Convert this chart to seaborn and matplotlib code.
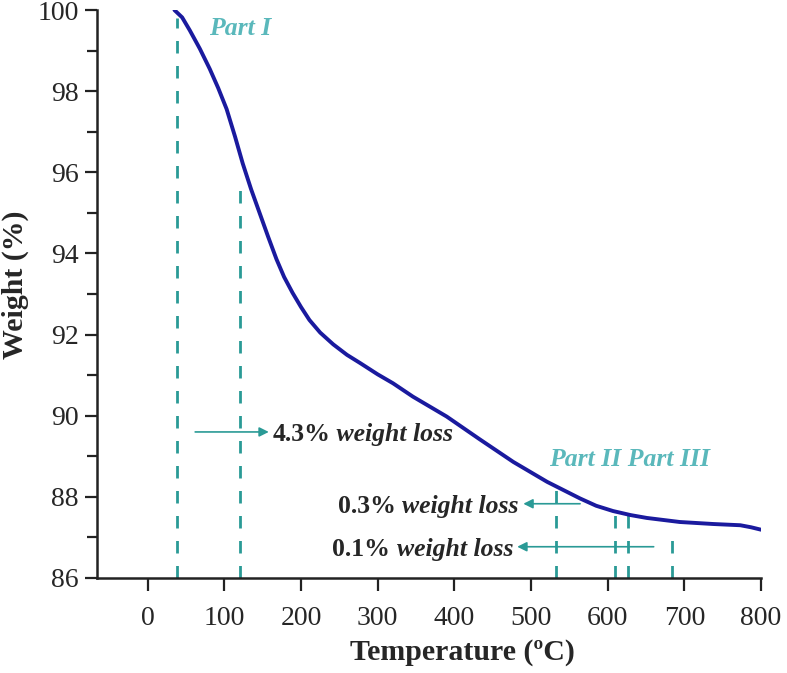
import numpy as np
import pandas as pd
import matplotlib
matplotlib.use("Agg")
import matplotlib.pyplot as plt
import seaborn as sns

# ---- data ----
temperature = [35, 45, 55, 68, 81, 92, 103, 114, 124, 135, 146, 157, 168, 178, 189, 200,
               211, 225, 242, 260, 277, 300, 320, 346, 390, 433, 477, 521, 564, 585, 607,
               630, 651, 694, 738, 773, 787, 800]
weight = [100.0, 99.82, 99.5, 99.05, 98.55, 98.08, 97.56, 96.88, 96.22, 95.58, 95.0,
          94.42, 93.86, 93.42, 93.03, 92.68, 92.36, 92.05, 91.76, 91.5, 91.3, 91.02,
          90.8, 90.47, 89.98, 89.42, 88.86, 88.37, 87.96, 87.78, 87.65, 87.55, 87.48,
          87.38, 87.33, 87.3, 87.25, 87.19]

# dashed markers: temperature and the weight where each dash stops
marker_temps = [38, 121, 533, 610, 627, 684]
marker_tops = [99.8, 95.6, 88.25, 87.64, 87.64, 87.05]

# arrows: (start T, end T, weight level)
arrow_start = [62, 564, 660]
arrow_end = [158, 490, 482]
arrow_level = [89.6, 87.83, 86.77]
loss_values = ["4.3%", "0.3%", "0.1%"]

part_labels = ["Part I", "Part II Part III"]

df = pd.DataFrame({"Temperature": temperature, "Weight": weight})

sns.set_style("ticks")
plt.rcParams['font.family'] = ['Liberation Serif', 'DejaVu Serif']

fig = plt.figure(figsize=(7.87, 6.73), dpi=100)
ax = fig.add_axes([0.1233, 0.1412, 0.967 - 0.1233, 0.985 - 0.1412])

teal = "#2a9a96"
light_teal = "#5ab8bb"

ax.vlines(marker_temps, 86, marker_tops, colors=teal, linestyles=(0, (4.5, 4.5)), lw=2)

sns.lineplot(data=df, x="Temperature", y="Weight", color="#1a1a9e", lw=2.8, ax=ax)
ax.lines[-1].set_solid_joinstyle("round")

# arrows
for x0, x1, y in zip(arrow_start, arrow_end, arrow_level):
    ax.annotate("", xy=(x1, y), xytext=(x0, y),
                arrowprops=dict(arrowstyle="-|>", color=teal, lw=1.2,
                                mutation_scale=14, shrinkA=0, shrinkB=0))

# annotation texts: bold value followed by bold-italic "weight loss"
fs = 18.5
t = ax.text(163, arrow_level[0], loss_values[0], fontsize=fs, fontweight="bold",
            va="center_baseline", ha="left")
ax.annotate(" weight loss", xy=(1, 0), xycoords=t, fontsize=fs, fontweight="bold",
            style="italic", va="bottom", ha="left")

for val, xr, y in [(loss_values[1], 484, arrow_level[1]), (loss_values[2], 477, arrow_level[2])]:
    w = ax.text(xr, y, "weight loss", fontsize=fs, fontweight="bold", style="italic",
                va="center_baseline", ha="right")
    ax.annotate(val + " ", xy=(0, 0), xycoords=w, fontsize=fs, fontweight="bold",
                va="bottom", ha="right")

ax.text(80, 99.55, part_labels[0], color=light_teal, fontsize=fs, fontweight="bold",
        style="italic", va="center", ha="left")
ax.text(524, 88.93, part_labels[1], color=light_teal, fontsize=fs, fontweight="bold",
        style="italic", va="center", ha="left")

ax.set_xlim(-66, 800)
ax.set_ylim(86, 100)
ax.set_xticks(range(0, 801, 100))
ax.set_yticks(range(86, 101, 2))
ax.set_yticks(range(87, 100, 2), minor=True)
ax.tick_params(axis="both", which="major", labelsize=20, width=1.6, length=9, color="#222222")
ax.tick_params(axis="y", which="minor", width=1.6, length=7, color="#222222")
ax.tick_params(axis="x", pad=11)
ax.tick_params(axis="y", pad=4)

sns.despine(ax=ax)
for s in ["left", "bottom"]:
    ax.spines[s].set_linewidth(1.8)
    ax.spines[s].set_color("#222222")

ax.set_xlabel("Temperature (ºC)", fontsize=21.5, fontweight="bold")
ax.xaxis.set_label_coords(0.551, -0.107)
ax.set_ylabel("Weight (%)", fontsize=21.5, fontweight="bold")
ax.yaxis.set_label_coords(-0.103, 0.516)

fig.savefig("out.png", dpi=100)
